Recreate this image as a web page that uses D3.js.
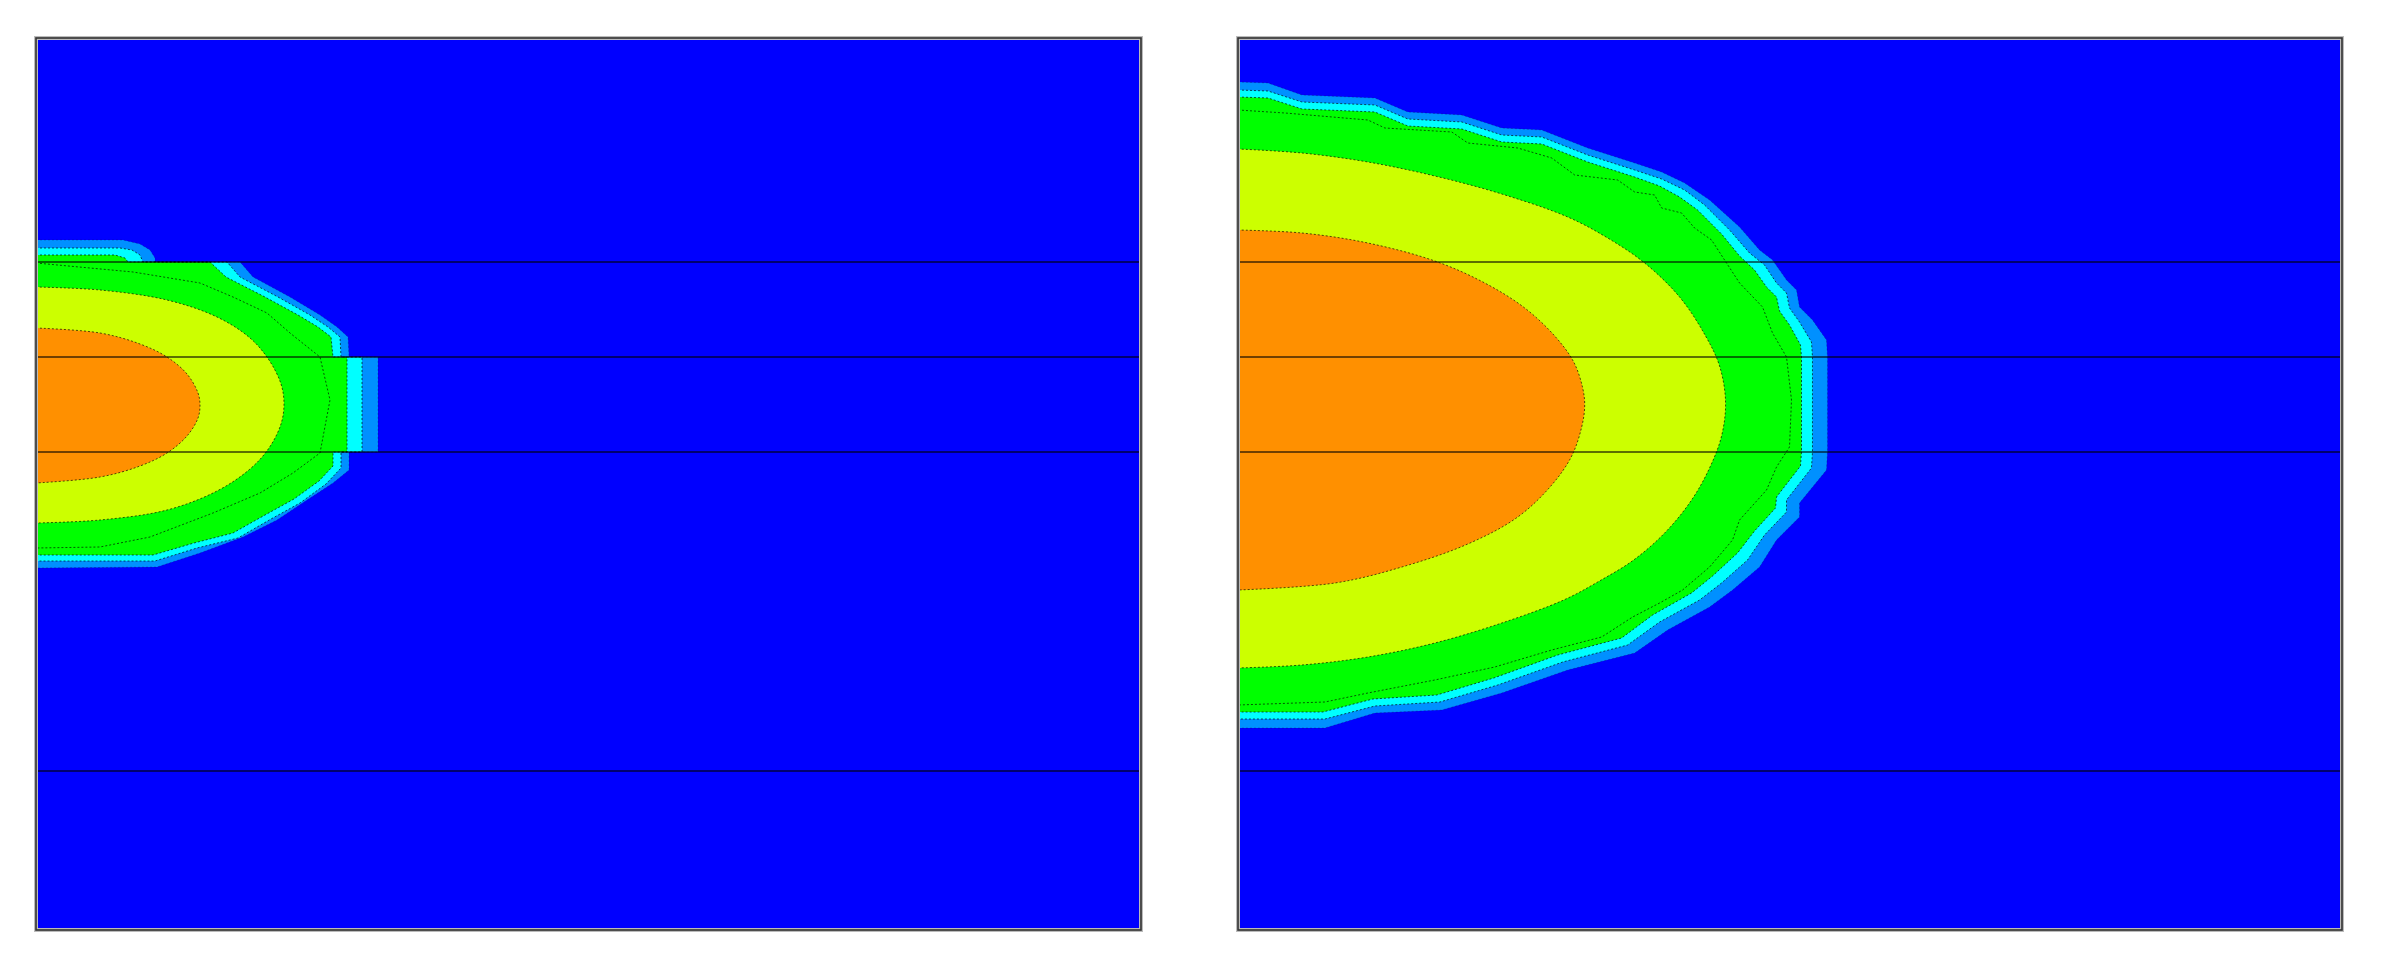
<!DOCTYPE html>
<html>
<head>
<meta charset="utf-8">
<script src="https://cdn.jsdelivr.net/npm/d3@7"></script>
<style>
  html, body { margin: 0; padding: 0; background: #ffffff; }
  svg { display: block; }
</style>
</head>
<body>
<svg id="chart" width="2381" height="961"></svg>
<script>
// ---------------- DATA (horizontal distance x, depth y; same units for both panels) ----------------
const xExtent = [0, 110.5];
const yExtent = [0, 89.2];
const layerDepths = [22.4, 31.9, 41.4, 73.3];

// band colours, outermost (lowest level) to innermost (highest level)
const bandColors = ["#0090ff", "#00ffff", "#00ff00", "#00ff00", "#ccff00", "#ff9000"];
const backgroundColor = "#0000ff";

// ---- left panel contour outlines ([x, depth]) ----
const leftL1 = [[0,20.2],[8.7,20.2],[10.4,20.6],[11.4,21.2],[11.9,22.0],[11.9,22.4],[20.4,22.4],[21.7,23.9],[25.4,25.9],[28.4,27.7],[30.1,28.9],[31.2,29.9],[31.3,31.9],[34.2,31.9],[34.2,41.4],[31.3,41.4],[31.3,43.2],[29.7,44.5],[27.1,46.2],[24.1,48.2],[20.7,49.9],[16.4,51.5],[12.1,52.9],[0,53.0]];
const leftL2 = [[0,21.0],[8.4,21.0],[9.6,21.2],[10.4,21.7],[10.7,22.4],[19.1,22.4],[20.4,23.9],[24.2,25.9],[27.4,27.7],[29.2,28.9],[30.4,29.9],[30.5,31.9],[32.6,31.9],[32.6,41.4],[30.5,41.4],[30.5,43.0],[29.0,44.6],[26.4,46.5],[23.5,48.1],[20.2,50.0],[16.1,51.0],[11.9,52.3],[0,52.3]];
const leftL3 = [[0,21.7],[7.9,21.7],[8.9,22.0],[9.2,22.4],[17.4,22.4],[19.0,23.9],[22.9,25.9],[26.2,27.7],[28.2,28.9],[29.5,29.9],[29.7,31.9],[31.1,31.9],[31.1,41.4],[29.7,41.4],[29.7,42.8],[28.3,44.3],[25.8,46.1],[22.9,47.7],[19.7,49.5],[15.8,50.5],[11.7,51.7],[0,51.7]];
const leftL4 = [[0,22.5],[9.7,23.4],[16.4,24.5],[19.7,25.9],[23.1,27.5],[25.4,29.5],[28.4,31.9],[29.4,36.2],[28.4,41.5],[25.7,43.5],[22.4,45.5],[17.7,47.5],[11.4,49.9],[6.4,50.9],[0,51.0]];
const leftL5 = [[0,24.9],[6.4,25.2],[13.1,26.2],[18.1,27.9],[21.4,30.0],[23.3,32.2],[24.5,34.6],[24.8,36.6],[24.5,38.6],[23.3,41.0],[21.4,43.1],[18.1,45.3],[13.1,47.2],[6.4,48.2],[0,48.5]];
const leftL6 = [[0,29.0],[6.4,29.5],[10.4,30.6],[13.1,31.9],[15.1,33.6],[16.2,35.5],[16.4,36.7],[16.2,38.0],[15.1,39.8],[13.1,41.5],[10.4,42.8],[6.4,43.9],[0,44.5]];

// ---- right panel contour outlines ([x, depth]) ----
const rightL1 = [[0,4.4],[3.0,4.5],[6.4,5.7],[13.7,6.0],[17.0,7.4],[22.4,7.7],[26.4,9.0],[30.4,9.2],[35.0,11.0],[39.7,12.5],[42.4,13.4],[44.7,14.5],[47.2,16.2],[50.2,18.9],[52.2,21.2],[53.5,22.2],[54.9,24.2],[55.9,25.2],[56.2,26.9],[57.5,28.2],[58.9,30.2],[59.0,31.9],[59.0,41.4],[58.9,43.2],[56.2,46.5],[56.2,47.9],[53.9,50.2],[52.2,52.9],[49.5,55.2],[47.2,56.9],[43.0,59.2],[39.7,61.5],[33.0,63.2],[26.4,65.5],[20.4,67.2],[13.7,67.5],[8.7,69.0],[0,69.0]];
const rightL2 = [[0,5.2],[3.0,5.3],[6.4,6.4],[13.7,6.7],[17.0,8.1],[22.4,8.4],[26.4,9.7],[30.4,9.9],[35.0,11.7],[39.7,13.2],[42.4,14.1],[44.7,15.2],[46.7,16.7],[49.2,19.2],[51.2,21.5],[52.7,22.7],[53.9,24.5],[54.9,25.5],[55.2,27.0],[56.2,28.4],[57.4,30.4],[57.5,31.9],[57.5,41.4],[57.4,43.0],[54.9,46.2],[54.9,47.4],[52.7,49.7],[51.0,52.2],[48.4,54.5],[46.2,56.2],[42.2,58.4],[39.0,60.7],[32.5,62.4],[26.0,64.7],[20.2,66.4],[13.7,66.8],[8.7,68.1],[0,68.1]];
const rightL3 = [[0,5.9],[3.0,6.0],[6.4,7.1],[13.7,7.4],[17.0,8.8],[22.4,9.1],[26.4,10.4],[30.4,10.6],[35.0,12.4],[39.7,13.9],[42.2,14.8],[44.2,15.9],[46.0,17.2],[48.4,19.6],[50.2,21.8],[51.7,23.2],[52.9,24.9],[53.9,25.9],[54.2,27.3],[55.2,28.7],[56.3,30.7],[56.4,31.9],[56.4,41.4],[56.3,42.8],[53.9,45.9],[53.8,47.0],[51.7,49.3],[50.0,51.5],[47.5,53.8],[45.4,55.5],[41.5,57.7],[38.4,60.0],[32.0,61.7],[25.6,64.0],[19.9,65.7],[13.5,66.1],[8.5,67.4],[0,67.4]];
const rightL4 = [[0,7.2],[4.7,7.5],[13.0,8.2],[14.7,9.0],[21.4,9.4],[23.0,10.5],[28.0,11.0],[31.4,12.0],[33.7,13.7],[38.0,14.2],[39.7,15.4],[41.7,15.7],[42.4,17.0],[44.4,17.5],[45.7,19.0],[47.4,20.2],[48.7,22.2],[50.2,24.5],[52.5,26.9],[53.5,29.5],[54.9,31.9],[55.4,36.2],[55.2,40.9],[53.9,42.9],[52.9,45.2],[50.2,48.2],[49.5,50.2],[47.2,52.9],[44.5,55.2],[42.2,56.5],[39.5,57.9],[36.4,59.9],[31.4,61.2],[25.7,62.9],[19.7,64.2],[13.0,65.5],[8.7,66.4],[0,66.7]];
const rightL5 = [[0,11.1],[6.4,11.5],[13.0,12.4],[19.7,13.8],[26.4,15.6],[33.0,17.9],[37.0,20.0],[40.7,22.5],[44.2,25.9],[46.8,29.8],[48.2,32.8],[48.8,36.4],[48.4,39.8],[47.2,43.0],[45.4,46.2],[42.8,49.4],[39.6,52.2],[36.0,54.4],[32.6,56.2],[26.4,58.5],[19.7,60.5],[13.0,61.9],[6.4,62.7],[0,63.0]];
const rightL6 = [[0,19.2],[6.4,19.5],[13.0,20.5],[19.7,22.3],[24.7,24.5],[28.7,27.0],[31.7,29.8],[33.6,32.4],[34.5,35.0],[34.7,36.8],[34.4,38.9],[33.4,41.8],[31.4,44.7],[28.0,47.9],[23.0,50.6],[16.4,52.9],[9.7,54.5],[0,55.2]];

const leftContours = [leftL1, leftL2, leftL3, leftL4, leftL5, leftL6];
const rightContours = [rightL1, rightL2, rightL3, rightL4, rightL5, rightL6];

// ---------------- DRAWING ----------------
const svg = d3.select("#chart");
const yScale = d3.scaleLinear().domain(yExtent).range([38, 930]);
const panels = [
  { contours: leftContours, range: [36, 1141] },
  { contours: rightContours, range: [1238, 2342] }
];

panels.forEach((p, pi) => {
  const xScale = d3.scaleLinear().domain(xExtent).range(p.range);
  const g = svg.append("g");
  const clipId = "clip" + pi;
  svg.append("defs").append("clipPath").attr("id", clipId)
    .append("rect")
    .attr("x", xScale(xExtent[0])).attr("y", yScale(yExtent[0]))
    .attr("width", xScale(xExtent[1]) - xScale(xExtent[0]))
    .attr("height", yScale(yExtent[1]) - yScale(yExtent[0]));
  const inner = g.append("g").attr("clip-path", `url(#${clipId})`);

  inner.append("rect")
    .attr("x", xScale(xExtent[0])).attr("y", yScale(yExtent[0]))
    .attr("width", xScale(xExtent[1]) - xScale(xExtent[0]))
    .attr("height", yScale(yExtent[1]) - yScale(yExtent[0]))
    .attr("fill", backgroundColor);

  const linear = d3.line().x(d => xScale(d[0])).y(d => yScale(d[1])).curve(d3.curveLinear);
  const smooth = d3.line().x(d => xScale(d[0])).y(d => yScale(d[1])).curve(d3.curveCatmullRom.alpha(0.5));
  const gen = i => (i >= 4 ? smooth : linear);

  // filled bands
  p.contours.forEach((c, i) => {
    inner.append("path")
      .attr("d", gen(i)(c) + "Z")
      .attr("fill", bandColors[i])
      .attr("stroke", "none");
  });
  // dashed contour lines
  p.contours.forEach((c, i) => {
    inner.append("path")
      .attr("d", gen(i)(c))
      .attr("fill", "none")
      .attr("stroke", "#000")
      .attr("stroke-opacity", i === 0 ? 0.2 : 0.65)
      .attr("stroke-width", 1)
      .attr("stroke-dasharray", "2,2");
  });

  // layer boundaries
  inner.selectAll("line.layer").data(layerDepths).enter().append("line")
    .attr("class", "layer")
    .attr("x1", xScale(xExtent[0])).attr("x2", xScale(xExtent[1]))
    .attr("y1", d => yScale(d)).attr("y2", d => yScale(d))
    .attr("stroke", "#000").attr("stroke-opacity", 0.75).attr("stroke-width", 1.6);

  // frame
  g.append("rect")
    .attr("x", xScale(xExtent[0])).attr("y", yScale(yExtent[0]))
    .attr("width", xScale(xExtent[1]) - xScale(xExtent[0]))
    .attr("height", yScale(yExtent[1]) - yScale(yExtent[0]))
    .attr("fill", "none").attr("stroke", "#bbb").attr("stroke-width", 4);
  g.append("rect")
    .attr("x", xScale(xExtent[0])).attr("y", yScale(yExtent[0]))
    .attr("width", xScale(xExtent[1]) - xScale(xExtent[0]))
    .attr("height", yScale(yExtent[1]) - yScale(yExtent[0]))
    .attr("fill", "none").attr("stroke", "#333").attr("stroke-width", 1.6);
});
</script>
</body>
</html>
